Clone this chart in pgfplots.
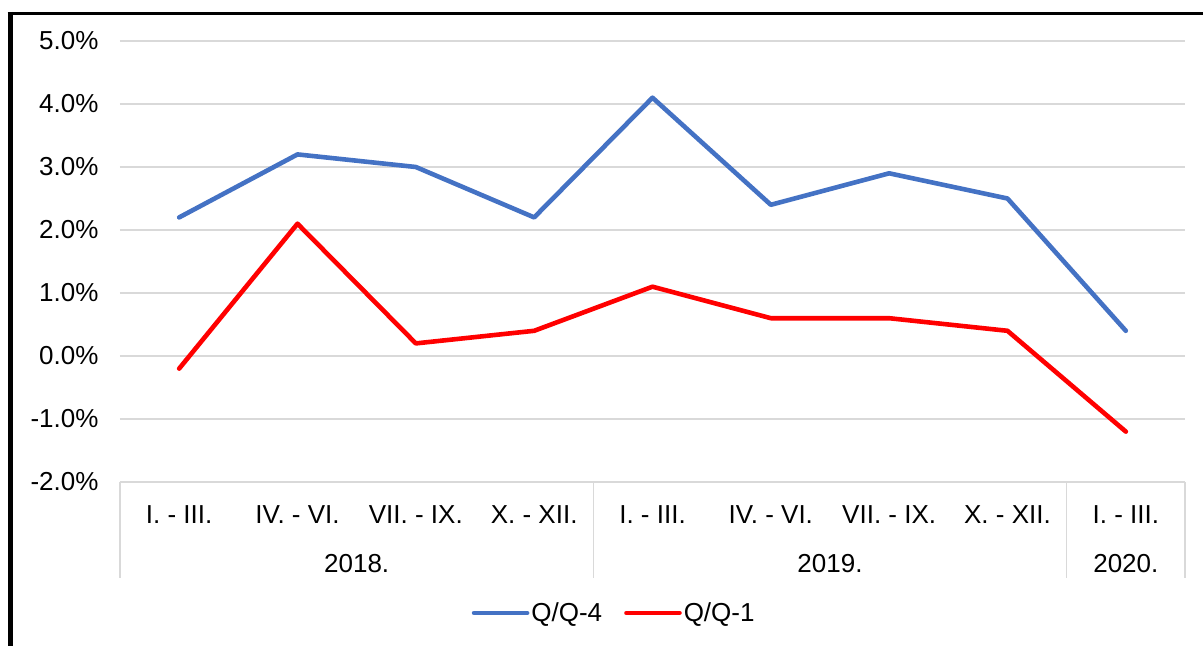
\documentclass[border=0pt]{standalone}
\usepackage{pgfplots}
\pgfplotsset{compat=1.18}
\usepackage{fontspec}
\setmainfont{Liberation Sans}
\definecolor{qblue}{HTML}{4472C4}
\definecolor{qred}{HTML}{FF0000}
\definecolor{gridgray}{HTML}{D9D9D9}
\newcommand{\lbl}{\fontsize{26}{30}\selectfont}
\begin{document}
\begin{tikzpicture}[x=1pt,y=1pt]
\path[use as bounding box] (0,0) rectangle (1203,646);
\draw[black,line width=3pt] (7.5,632.5) -- (1203,632.5);
\draw[black,line width=5pt] (10,634) -- (10,0);
\begin{axis}[
  at={(120pt,164pt)}, anchor=south west,
  scale only axis, width=1065pt, height=441pt,
  xmin=-0.5, xmax=8.5, ymin=-2, ymax=5,
  clip=false,
  axis line style={draw=none},
  major tick length=0pt,
  xtick={0,...,8},
  xticklabels={I. - III., IV. - VI., VII. - IX., X. - XII., I. - III., IV. - VI., VII. - IX., X. - XII., I. - III.},
  xticklabel style={anchor=base, yshift=-41pt, font=\lbl},
  ytick={-2,-1,...,5},
  yticklabel={\pgfmathprintnumber[fixed,fixed zerofill,precision=1]{\tick}\%},
  yticklabel style={anchor=east, xshift=-18pt, font=\lbl},
  /pgf/number format/assume math mode=true,
  ymajorgrids,
  grid style={gridgray, line width=1.6pt},
  legend style={draw=none, fill=none, font=\lbl, at={(0.464,-0.297)}, anchor=center,
    legend columns=2, /tikz/every even column/.append style={column sep=20pt}},
  legend image code/.code={\draw[#1, line cap=round] (0pt,0pt) -- (53pt,0pt);},
]
\addplot[qblue, line width=4.6pt, line join=round, line cap=round] coordinates {
(0,2.2) (1,3.2) (2,3.0) (3,2.2) (4,4.1) (5,2.4) (6,2.9) (7,2.5) (8,0.4)};
\addlegendentry{Q/Q-4}
\addplot[qred, line width=4.6pt, line join=round, line cap=round] coordinates {
(0,-0.2) (1,2.1) (2,0.2) (3,0.4) (4,1.1) (5,0.6) (6,0.6) (7,0.4) (8,-1.2)};
\addlegendentry{Q/Q-1}
\draw[gridgray, line width=1.6pt] (axis cs:-0.5,-2) -- ++(0pt,-96pt);
\draw[gridgray, line width=1.6pt] (axis cs:3.5,-2) -- ++(0pt,-96pt);
\draw[gridgray, line width=1.6pt] (axis cs:7.5,-2) -- ++(0pt,-96pt);
\draw[gridgray, line width=1.6pt] (axis cs:8.5,-2) -- ++(0pt,-96pt);
\node[anchor=base, font=\lbl] at ([yshift=-90pt]axis cs:1.5,-2) {2018.};
\node[anchor=base, font=\lbl] at ([yshift=-90pt]axis cs:5.5,-2) {2019.};
\node[anchor=base, font=\lbl] at ([yshift=-90pt]axis cs:8,-2) {2020.};
\end{axis}
\end{tikzpicture}
\end{document}
